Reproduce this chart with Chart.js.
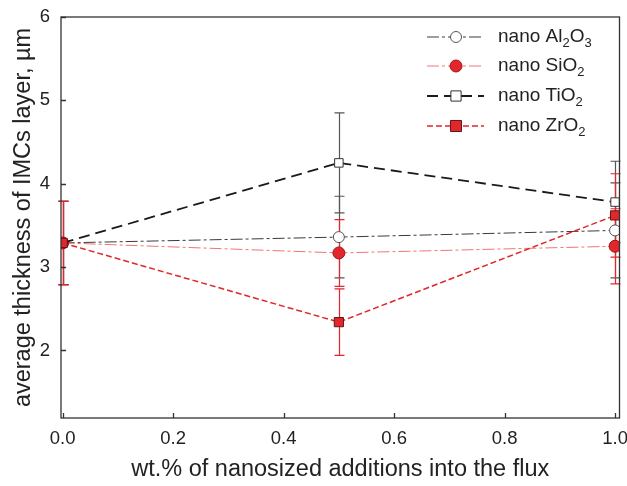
<!DOCTYPE html>
<html>
<head>
<meta charset="utf-8">
<script src="https://cdn.jsdelivr.net/npm/chart.js@4.4.1/dist/chart.umd.min.js"></script>
<style>
  html, body { margin: 0; padding: 0; background: #fff; }
  #wrap { width: 627px; height: 486px; }
</style>
</head>
<body>
<div id="wrap"><canvas id="imcChart" width="627" height="486"></canvas></div>
<script>
// wt.% of nano additions in the flux
const additions = [0.0, 0.5, 1.0];

// mean IMC layer thickness (µm) and +/- spread for each addition
const al2o3 = [3.29, 3.36, 3.44];
const al2o3Err = [0.5, 0.49, 0.57];
const sio2 = [3.29, 3.17, 3.25];
const sio2Err = [0.5, 0.4, 0.45];
const tio2 = [3.29, 4.25, 3.78];
const tio2Err = [0.5, 0.6, 0.49];
const zro2 = [3.29, 2.34, 3.62];
const zro2Err = [0.5, 0.4, 0.5];

// "_" marks a subscript digit
const seriesNames = ['nano Al_2O_3', 'nano SiO_2', 'nano TiO_2', 'nano ZrO_2'];

const xTicks = [0.0, 0.2, 0.4, 0.6, 0.8, 1.0];
const yTicks = [2, 3, 4, 5, 6];

const FONT = "'Liberation Sans', Arial, sans-serif";
const RED = '#e3262b';

function points(ys) {
    return additions.map((x, i) => ({ x: x, y: ys[i] }));
}

const styles = [
    { line: '#3a3a3a', width: 1, dash: [12, 3, 3, 3], shape: 'circle', fill: '#ffffff', edge: '#555555', r: 5.5, bar: '#555555' },
    { line: '#f07474', width: 1, dash: [12, 3, 3, 3], shape: 'circle', fill: RED, edge: '#9c1418', r: 6, bar: RED },
    { line: '#1a1a1a', width: 1.8, dash: [11, 6], shape: 'rect', fill: '#ffffff', edge: '#333333', r: 6, bar: '#555555' },
    { line: RED, width: 1.5, dash: [6, 3], shape: 'rect', fill: RED, edge: '#5a1a1a', r: 6.5, bar: RED }
];
const seriesData = [al2o3, sio2, tio2, zro2];
const seriesErr = [al2o3Err, sio2Err, tio2Err, zro2Err];
// grey error bars go down first so the red ones stay visible
const barOrder = [0, 2, 1, 3];

const datasets = seriesData.map((ys, i) => ({
    label: seriesNames[i].replace(/_/g, ''),
    data: points(ys),
    order: seriesData.length - i, // later series sit on top
    showLine: true,
    borderColor: styles[i].line,
    borderWidth: styles[i].width,
    borderDash: styles[i].dash,
    pointStyle: styles[i].shape,
    pointRadius: styles[i].r,
    pointBackgroundColor: styles[i].fill,
    pointBorderColor: styles[i].edge,
    pointBorderWidth: 1,
    tension: 0
}));

// error bars, frame, inward ticks and the legend with subscripts
const decorations = {
    id: 'decorations',
    beforeDatasetsDraw(chart) {
        const ctx = chart.ctx;
        const xs = chart.scales.x, ys = chart.scales.y;
        ctx.save();
        ctx.setLineDash([]);
        barOrder.forEach(i => {
            ctx.strokeStyle = styles[i].bar;
            ctx.lineWidth = 1.2;
            seriesData[i].forEach((v, j) => {
                const px = Math.round(xs.getPixelForValue(additions[j])) + 0.5;
                const top = ys.getPixelForValue(v + seriesErr[i][j]);
                const bot = ys.getPixelForValue(v - seriesErr[i][j]);
                ctx.beginPath();
                ctx.moveTo(px, top); ctx.lineTo(px, bot);
                ctx.moveTo(px - 5, top); ctx.lineTo(px + 5, top);
                ctx.moveTo(px - 5, bot); ctx.lineTo(px + 5, bot);
                ctx.stroke();
            });
        });
        ctx.restore();
    },
    afterDraw(chart) {
        const ctx = chart.ctx;
        const a = chart.chartArea;
        const xs = chart.scales.x, ys = chart.scales.y;
        ctx.save();
        ctx.setLineDash([]);
        ctx.strokeStyle = '#333';
        ctx.lineWidth = 1.3;
        ctx.strokeRect(a.left, a.top, a.right - a.left, a.bottom - a.top);
        ctx.beginPath();
        xTicks.forEach(t => {
            const px = Math.round(xs.getPixelForValue(t)) + 0.5;
            ctx.moveTo(px, a.bottom); ctx.lineTo(px, a.bottom - 5);
        });
        yTicks.forEach(t => {
            const py = Math.round(ys.getPixelForValue(t)) + 0.5;
            ctx.moveTo(a.left, py); ctx.lineTo(a.left + 5, py);
        });
        ctx.stroke();

        // legend
        const rowY = [37, 66, 96, 126];
        const x0 = 427, x1 = 484, xm = 456, tx = 498;
        seriesNames.forEach((name, i) => {
            const st = styles[i];
            const y = rowY[i];
            ctx.strokeStyle = st.line;
            ctx.lineWidth = st.width;
            ctx.setLineDash(st.dash);
            ctx.beginPath();
            ctx.moveTo(x0, y); ctx.lineTo(x1, y);
            ctx.stroke();
            ctx.setLineDash([]);
            ctx.fillStyle = st.fill;
            ctx.strokeStyle = st.edge;
            ctx.lineWidth = 1;
            ctx.beginPath();
            if (st.shape === 'circle') {
                ctx.arc(xm, y, st.r, 0, Math.PI * 2);
            } else {
                ctx.rect(xm - st.r * 0.85, y - st.r * 0.85, st.r * 1.7, st.r * 1.7);
            }
            ctx.fill();
            ctx.stroke();

            ctx.fillStyle = '#222';
            ctx.textBaseline = 'middle';
            ctx.textAlign = 'left';
            let cx = tx;
            name.split(/(_\d)/).forEach(part => {
                if (!part) return;
                if (part[0] === '_') {
                    ctx.font = '13px ' + FONT;
                    ctx.fillText(part[1], cx, y + 6);
                    cx += ctx.measureText(part[1]).width;
                } else {
                    ctx.font = '19px ' + FONT;
                    ctx.fillText(part, cx, y);
                    cx += ctx.measureText(part).width;
                }
            });
        });
        ctx.restore();
    }
};

const config = {
    type: 'scatter',
    data: { datasets: datasets },
    options: {
        responsive: false,
        animation: false,
        layout: { padding: { top: 17, right: 7, left: 0, bottom: 0 } },
        scales: {
            x: {
                type: 'linear',
                min: -0.003,
                max: 1.008,
                afterBuildTicks: s => { s.ticks = xTicks.map(v => ({ value: v })); },
                afterFit: s => { s.height = 68; s.paddingLeft = 0; s.paddingRight = 0; },
                ticks: {
                    color: '#222',
                    font: { family: FONT, size: 18.5 },
                    padding: 10,
                    maxRotation: 0,
                    callback: v => v.toFixed(1)
                },
                grid: { display: false, drawTicks: false },
                border: { display: false },
                title: {
                    display: true,
                    text: 'wt.% of nanosized additions into the flux',
                    color: '#222',
                    font: { family: FONT, size: 23.5 },
                    padding: { top: 0, bottom: 2 }
                }
            },
            y: {
                type: 'linear',
                min: 1.19,
                max: 6,
                afterBuildTicks: s => { s.ticks = yTicks.map(v => ({ value: v })); },
                afterFit: s => { s.width = 61; s.paddingTop = 0; s.paddingBottom = 0; },
                ticks: {
                    color: '#222',
                    font: { family: FONT, size: 18.5 },
                    padding: 11,
                    callback: v => String(v)
                },
                grid: { display: false, drawTicks: false },
                border: { display: false },
                title: {
                    display: true,
                    text: 'average thickness of IMCs layer, µm',
                    color: '#222',
                    font: { family: FONT, size: 23.5 },
                    padding: { top: 9, bottom: 0 }
                }
            }
        },
        plugins: {
            legend: { display: false },
            tooltip: { enabled: false }
        }
    },
    plugins: [decorations]
};

new Chart(document.getElementById('imcChart'), config);
</script>
</body>
</html>
